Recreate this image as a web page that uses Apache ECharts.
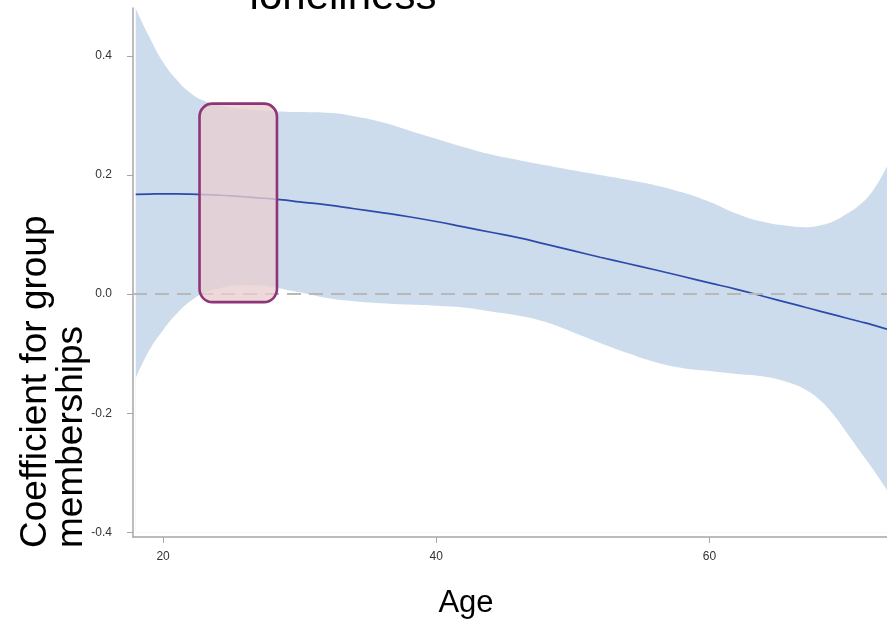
<!DOCTYPE html>
<html>
<head>
<meta charset="utf-8">
<script src="https://cdn.jsdelivr.net/npm/echarts@6/dist/echarts.min.js"></script>
<style>
  html, body { margin: 0; padding: 0; background: #ffffff; }
  #chart { width: 887px; height: 622px; }
</style>
</head>
<body>
<div id="chart"></div>
<script>
// Age grid of the fitted curve
const ages = [18, 19, 20, 21, 22, 23, 24, 25, 26, 27, 28, 29, 30, 32, 34, 36, 38, 40, 42, 44,
              46, 48, 50, 52, 54, 56, 58, 60, 62, 64, 66, 67, 68, 69, 70, 71, 72, 73];

// Estimated coefficient for group memberships at each age
const estimate = [0.1675, 0.168, 0.1685, 0.1684, 0.168, 0.1673, 0.1663, 0.165, 0.1633, 0.1617,
                  0.160, 0.1578, 0.155, 0.150, 0.1435, 0.137, 0.130, 0.122, 0.113, 0.104,
                  0.095, 0.084, 0.073, 0.062, 0.0515, 0.041, 0.030, 0.019, 0.008, -0.004,
                  -0.016, -0.022, -0.028, -0.034, -0.040, -0.046, -0.052, -0.059];

// Upper and lower bounds of the confidence band
const upperCI = [0.480, 0.432, 0.390, 0.360, 0.338, 0.325, 0.318, 0.3133, 0.311, 0.309,
                 0.3078, 0.3066, 0.3058, 0.3048, 0.299, 0.289, 0.275, 0.261, 0.247, 0.2345,
                 0.2255, 0.2165, 0.208, 0.200, 0.192, 0.183, 0.171, 0.155, 0.135, 0.121,
                 0.114, 0.1125, 0.115, 0.1215, 0.134, 0.150, 0.175, 0.215];
const lowerCI = [-0.1416, -0.094, -0.0605, -0.033, -0.012, 0.002, 0.009, 0.0136, 0.015, 0.0145,
                 0.012, 0.0075, 0.003, -0.0065, -0.012, -0.0153, -0.0176, -0.0195, -0.0225, -0.029,
                 -0.036, -0.047, -0.064, -0.082, -0.099, -0.114, -0.124, -0.129, -0.134, -0.1385,
                 -0.150, -0.160, -0.176, -0.200, -0.231, -0.263, -0.295, -0.329];

// Tick labels
const xTicks = [20, 40, 60];
const yTicks = [-0.4, -0.2, 0.0, 0.2, 0.4];

// Highlighted age window: [ageFrom, ageTo, coefFrom, coefTo]
const highlightBox = [22.67, 28.34, -0.0134, 0.320];

const upperPts = ages.map((a, i) => [a, upperCI[i]]);
const lowerPts = ages.map((a, i) => [a, lowerCI[i]]);
const estPts = ages.map((a, i) => [a, estimate[i]]);

const axisGrey = '#a6a6a6';
const bandBlue = '#cddcec';
const tickFont = '"Liberation Sans Narrow", "Liberation Sans", Arial, sans-serif';
const mainFont = '"Liberation Sans", Arial, sans-serif';
const bandFloor = -0.4; // the band is filled from its upper edge down to here, then cleared below its lower edge

const chart = echarts.init(document.getElementById('chart'), null, { renderer: 'canvas' });

chart.setOption({
  animation: false,
  backgroundColor: '#ffffff',
  grid: { left: 133, right: 0, top: 8, bottom: 85, containLabel: false },
  xAxis: {
    type: 'value',
    min: 17.8,
    max: 73,
    axisLine: { show: true, onZero: false, lineStyle: { color: axisGrey, width: 1.5 } },
    axisTick: { show: true, length: 6, customValues: xTicks, lineStyle: { color: axisGrey, width: 1 } },
    axisLabel: { customValues: xTicks, margin: 14, fontSize: 12, color: '#333333', fontFamily: tickFont },
    splitLine: { show: false }
  },
  yAxis: {
    type: 'value',
    min: -0.408,
    max: 0.4807,
    axisLine: { show: true, onZero: false, lineStyle: { color: axisGrey, width: 1.5 } },
    axisTick: { show: true, length: 6, customValues: yTicks, lineStyle: { color: axisGrey, width: 1 } },
    axisLabel: {
      customValues: yTicks, margin: 21, fontSize: 12, color: '#333333', fontFamily: tickFont,
      formatter: v => Number(v).toFixed(1)
    },
    splitLine: { show: false }
  },
  series: [
    {
      name: 'upper',
      type: 'line',
      data: upperPts,
      smooth: true,
      symbol: 'none',
      silent: true,
      lineStyle: { width: 0, opacity: 0 },
      areaStyle: { color: bandBlue, opacity: 1, origin: bandFloor },
      z: 1
    },
    {
      name: 'lower',
      type: 'line',
      data: lowerPts,
      smooth: true,
      symbol: 'none',
      silent: true,
      lineStyle: { width: 0, opacity: 0 },
      areaStyle: { color: '#ffffff', opacity: 1, origin: bandFloor },
      z: 1
    },
    {
      name: 'estimate',
      type: 'line',
      data: estPts,
      smooth: true,
      symbol: 'none',
      silent: true,
      lineStyle: { color: '#2c4aa8', width: 1.7 },
      markLine: {
        silent: true,
        symbol: 'none',
        label: { show: false },
        lineStyle: { color: '#b8b8b8', width: 2, type: [14, 8] },
        data: [{ yAxis: 0 }]
      },
      z: 3
    },
    {
      name: 'window',
      type: 'custom',
      data: [highlightBox],
      encode: { x: [0, 1], y: [2, 3] },
      silent: true,
      z: 5,
      renderItem: function (params, api) {
        const p0 = api.coord([api.value(0), api.value(3)]);
        const p1 = api.coord([api.value(1), api.value(2)]);
        return {
          type: 'rect',
          shape: { x: p0[0], y: p0[1], width: p1[0] - p0[0], height: p1[1] - p0[1], r: 13 },
          style: { fill: 'rgba(232,206,208,0.78)', stroke: '#8e3578', lineWidth: 2.6 }
        };
      }
    }
  ],
  graphic: [
    {
      type: 'text',
      x: 343, y: -3,
      style: { text: 'loneliness', font: '42px ' + mainFont, fill: '#000000', align: 'center', verticalAlign: 'middle' },
      z: 10
    },
    {
      type: 'text',
      x: 466, y: 603,
      style: { text: 'Age', font: '31px ' + mainFont, fill: '#000000', align: 'center', verticalAlign: 'middle' },
      z: 10
    },
    {
      type: 'text',
      x: 18, y: 548,
      rotation: Math.PI / 2,
      style: {
        text: 'Coefficient for group\nmemberships',
        font: '37px ' + mainFont,
        lineHeight: 36,
        fill: '#000000',
        align: 'left',
        verticalAlign: 'top'
      },
      z: 10
    }
  ]
});
</script>
</body>
</html>
